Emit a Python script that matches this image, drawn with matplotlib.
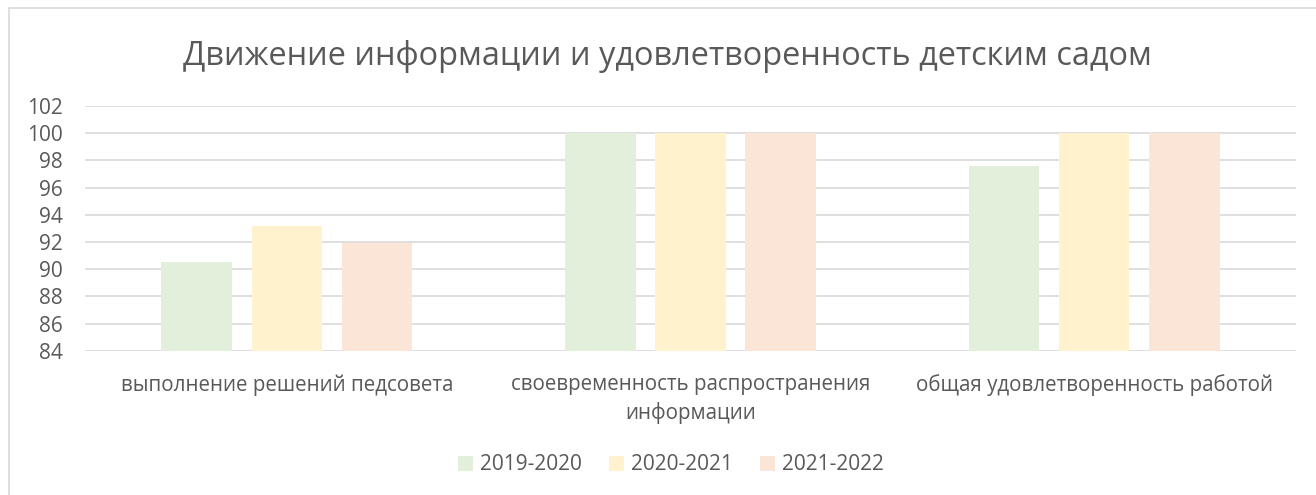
import numpy as np
import matplotlib.pyplot as plt
from matplotlib.patches import Rectangle

categories = ["выполнение решений педсовета",
              "своевременность распространения\nинформации",
              "общая удовлетворенность работой"]
years = ["2019-2020", "2020-2021", "2021-2022"]
v_2019 = [90.5, 100, 97.6]
v_2020 = [93.2, 100, 100]
v_2021 = [91.9, 100, 100]
colors = ["#E2EFDA", "#FFF2CC", "#FBE5D6"]
yticks = [84, 86, 88, 90, 92, 94, 96, 98, 100, 102]

plt.rcParams['font.family'] = ['Open Sans', 'DejaVu Sans']
grey = "#595959"
grid = "#D9D9D9"

fig = plt.figure(figsize=(13.16, 4.95), dpi=100)
# outer chart frame (runs off the right and bottom edge)
fig.patches.append(Rectangle((8.5 / 1316, -0.1), 1.2, 1 - 7.5 / 495 + 0.1,
                             transform=fig.transFigure, fill=False,
                             edgecolor=grid, linewidth=1.2))

ax = fig.add_axes([85 / 1316, 1 - 350.7 / 495, 1211 / 1316, (350.7 - 106) / 495])
x = np.arange(len(categories))
w = 0.175
step = 0.223
for i, (vals, lab) in enumerate(zip([v_2019, v_2020, v_2021], years)):
    ax.bar(x + (i - 1) * step, np.array(vals) - 84, w, bottom=84,
           color=colors[i], label=lab, zorder=2)

ax.set_xlim(-0.5, 2.5)
ax.set_ylim(84, 102)
ax.set_yticks(yticks)
ax.set_yticklabels([str(t) for t in yticks], color=grey, fontsize=15)
ax.set_xticks(x)
ax.set_xticklabels(categories, color=grey, fontsize=14.8, linespacing=1.4)
ax.tick_params(length=0)
ax.tick_params(axis='y', pad=16)
ax.tick_params(axis='x', pad=17)
ax.grid(axis='y', color=grid, linewidth=1.2, zorder=0)
for s in ax.spines.values():
    s.set_visible(False)

fig.text(0.507, 1 - 56 / 495, "Движение информации и удовлетворенность детским садом",
         ha='center', va='center', fontsize=23.4, color=grey)

leg = fig.legend(loc='center', bbox_to_anchor=(0.51, 1 - 465 / 495), ncol=3,
                 frameon=False, fontsize=15, handlelength=0.7, handleheight=0.7,
                 handletextpad=0.35, columnspacing=1.3)
for t in leg.get_texts():
    t.set_color(grey)

fig.savefig("out.png", dpi=100)
